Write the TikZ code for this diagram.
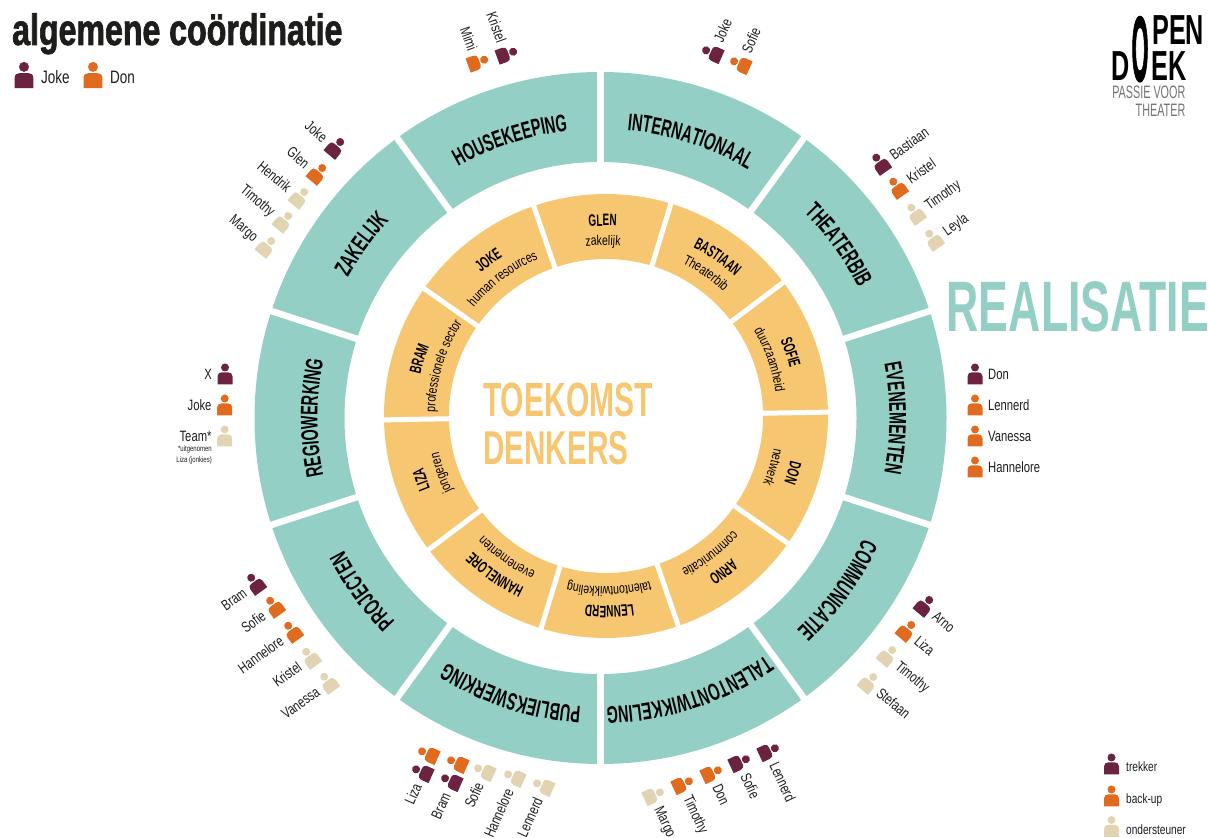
\documentclass[tikz,border=0pt]{standalone}
\usepackage{fontspec}
\usetikzlibrary{decorations.text}
\setmainfont{Liberation Sans}
\newfontfamily\headfont[FakeStretch=0.6]{Liberation Sans}
\newfontfamily\bigfont[FakeStretch=0.625]{Liberation Sans}
\newfontfamily\namefont[FakeStretch=0.75]{Liberation Sans}
\newfontfamily\titlefont[FakeStretch=0.73,FakeBold=1.5]{Liberation Sans}
\newfontfamily\logoofont[FakeStretch=0.6,FakeBold=1.6]{Liberation Sans}
\newcommand{\bandfont}{\headfont\bfseries\fontsize{24}{24}\selectfont}
\newcommand{\leadfont}{\headfont\bfseries\fontsize{16.5}{16.5}\selectfont}
\newcommand{\topicfont}{\namefont\fontsize{14}{14}\selectfont}
\newcommand{\ringlabel}[4]{\path[decorate,decoration={text along path,text align=center,text={|#3|#4}}] ({#1+28}:#2) arc ({#1+28}:{#1-28}:#2);}
\definecolor{bandteal}{HTML}{94CFC6}
\definecolor{ringgold}{HTML}{F6C671}
\definecolor{trekker}{HTML}{6B2340}
\definecolor{backup}{HTML}{E06A1E}
\definecolor{steun}{HTML}{E2D3B3}
\definecolor{inkdark}{HTML}{1D1D1B}
\tikzset{
	person/.pic={
		\fill[pic actions] (0,6.5) circle (4pt);
		\fill[pic actions] (-7.5,-10.5) -- (7.5,-10.5) -- (7.5,-2.5) .. controls (7.5,0.5) and (5.5,1.5) .. (3.5,1.5) -- (-3.5,1.5) .. controls (-5.5,1.5) and (-7.5,0.5) .. (-7.5,-2.5) -- cycle;
	},
	namelabel/.style={inner sep=0,text=inkdark,font=\namefont\fontsize{15}{15}\selectfont},
	logolabel/.style={inner sep=0,text=black,font=\headfont\bfseries\fontsize{42}{42}\selectfont},
	logosub/.style={inner sep=0,text=black!55,font=\headfont\fontsize{18}{18}\selectfont},
}
\begin{document}
\begin{tikzpicture}[x=1pt,y=1pt]
	\useasboundingbox (0,0) rectangle (1208,838);
	% outer band
	\begin{scope}[shift={(600.5,420)}]
		\fill[bandteal,even odd rule] (0,0) circle (346) (0,0) circle (256);
		\foreach \a in {18,54,...,342}
			\draw[white,line width=6.5pt] (\a:250) -- (\a:352);
		\draw[white,line width=6.5pt] (90:250) -- (90:352);
		\ringlabel{108}{289}{\bandfont}{HOUSEKEEPING}
		\ringlabel{72}{289}{\bandfont}{INTERNATIONAAL}
		\ringlabel{36}{289}{\bandfont}{THEATERBIB}
		\ringlabel{0}{289}{\bandfont}{EVENEMENTEN}
		\ringlabel{-36}{289}{\bandfont}{COMMUNICATIE}
		\ringlabel{-72}{289}{\bandfont}{TALENTONTWIKKELING}
		\ringlabel{-108}{289}{\bandfont}{PUBLIEKSWERKING}
		\ringlabel{-144}{289}{\bandfont}{PROJECTEN}
		\ringlabel{180}{283}{\bandfont}{REGIOWERKING}
		\ringlabel{144}{289}{\bandfont}{ZAKELIJK}
	\end{scope}
	% inner ring
	\begin{scope}[shift={(606,422)}]
		\fill[ringgold,even odd rule] (0,0) circle (222) (0,0) circle (157);
		\foreach \a in {1,37,...,325}
			\draw[white,line width=5pt] (\a:150) -- (\a:228);
		\ringlabel{91}{190}{\leadfont}{GLEN}
		\ringlabel{91}{171}{\topicfont}{zakelijk}
		\ringlabel{55}{190}{\leadfont}{BASTIAAN}
		\ringlabel{55}{171}{\topicfont}{Theaterbib}
		\ringlabel{19}{190}{\leadfont}{SOFIE}
		\ringlabel{19}{171}{\topicfont}{duurzaamheid}
		\ringlabel{-17}{190}{\leadfont}{DON}
		\ringlabel{-17}{171}{\topicfont}{netwerk}
		\ringlabel{-53}{190}{\leadfont}{ARNO}
		\ringlabel{-53}{171}{\topicfont}{communicatie}
		\ringlabel{-89}{190}{\leadfont}{LENNERD}
		\ringlabel{-89}{171}{\topicfont}{talentontwikkeling}
		\ringlabel{-125}{190}{\leadfont}{HANNELORE}
		\ringlabel{-125}{171}{\topicfont}{evenementen}
		\ringlabel{-161}{190}{\leadfont}{LIZA}
		\ringlabel{-161}{171}{\topicfont}{jongeren}
		\ringlabel{163}{190}{\leadfont}{BRAM}
		\ringlabel{163}{171}{\topicfont}{professionele sector}
		\ringlabel{127}{190}{\leadfont}{JOKE}
		\ringlabel{127}{171}{\topicfont}{human resources}
	\end{scope}
	\node[anchor=base west,inner sep=0,text=ringgold,font=\bigfont\bfseries\fontsize{48}{48}\selectfont] (toekomst) at (483,421) {TOEKOMST};
	\node[anchor=base west,inner sep=0,text=ringgold,font=\bigfont\bfseries\fontsize{47.5}{47.5}\selectfont] (denkers) at (483,373) {DENKERS};
	\node[anchor=base west,inner sep=0,text=bandteal,font=\bigfont\bfseries\fontsize{71.5}{71.5}\selectfont] (realisatie) at (946.5,506) {REALISATIE};
	% title and legends
	\node[anchor=base west,inner sep=0,text=inkdark,font=\titlefont\bfseries\fontsize{44}{44}\selectfont] (titel) at (12,793) {algemene coördinatie};
	\foreach \x/\c/\n in {24/trekker/Joke,93/backup/Don}{
		\pic[fill=\c,scale=1.25] at (\x,763) {person};
		\node[anchor=base west,inner sep=0,text=inkdark,font=\namefont\fontsize{18}{18}\selectfont] at (\x+17,754) {\n};
	}
	\foreach \y/\c/\n in {764/trekker/trekker,796/backup/back-up,826.5/steun/ondersteuner}{
		\pic[fill=\c] at (1111.5,838-\y) {person};
		\node[namelabel,anchor=base west,font=\namefont\fontsize{13.5}{13.5}\selectfont] at (1126,838-\y-8) {\n};
	}
	% logo
	\node[logolabel,anchor=base west,font=\logoofont\bfseries\fontsize{42}{42}\selectfont] (logoo) at (1131.5,757) {\scalebox{.85}[2.2]{O}};
	\node[logolabel,anchor=base west] (logopen) at (1152,793) {PEN};
	\node[logolabel,anchor=base west] (logod) at (1111,757) {D};
	\node[logolabel,anchor=base west] (logoek) at (1151,757) {EK};
	\node[logosub,anchor=base east] (passie) at (1185.5,739) {PASSIE VOOR};
	\node[logosub,anchor=base east] (theater) at (1185.5,721) {THEATER};
	% people right of the rings
	\foreach \x/\y/\r/\c/\n in {
		712/53/66/trekker/Joke,740/64/66/backup/Sofie,
		880/163/35/trekker/Bastiaan,897/187/35/backup/Kristel,915/213/35/steun/Timothy,933/239/35/steun/Leyla,
		975/374/0/trekker/Don,975/405/0/backup/Lennerd,975/436/0/backup/Vanessa,975/467/0/backup/Hannelore,
		925/605/-40/trekker/Arno,907/630/-40/backup/Liza,888/655/-40/steun/Timothy,869/682/-40/steun/Stefaan,
		769/751/-65/trekker/Lennerd,740/762/-65/trekker/Sofie,712/773/-65/backup/Don,683/784/-65/backup/Timothy,654/795/-65/steun/Margo}{
		\begin{scope}[shift={(\x,838-\y)},rotate=\r]
			\pic[fill=\c,transform shape] {person};
			\node[namelabel,transform shape,anchor=base west] at (13,-6) {\n};
		\end{scope}
	}
	% people left of the rings
	\foreach \x/\y/\r/\c/\n in {
		478/62/-70/backup/Mimi,507/54/-70/trekker/Kristel,
		336/147/-40/trekker/Joke,318/173/-40/backup/Glen,300/197/-40/steun/Hendrik,284/221/-40/steun/Timothy,267/246/-40/steun/Margo,
		225/374/0/trekker/X,224.7/405/0/backup/Joke,224.7/436/0/steun/Team*,
		255/583/36/trekker/Bram,274/606/36/backup/Sofie,292/631/36/backup/Hannelore,310/657/36/steun/Kristel,328/682/36/steun/Vanessa,
		422/772/66/trekker/Liza,451/781/66/trekker/Bram,484/771/66/steun/Sofie,514/777/66/steun/Hannelore,543/786/66/steun/Lennerd}{
		\begin{scope}[shift={(\x,838-\y)},rotate=\r]
			\pic[fill=\c,transform shape] {person};
			\node[namelabel,transform shape,anchor=base east] at (-13,-6) {\n};
		\end{scope}
	}
	\pic[fill=backup,rotate=66] at (428,84) {person};
	\pic[fill=backup,rotate=66] at (457,75) {person};
	\node[namelabel,align=right,anchor=north east,font=\namefont\fontsize{8}{10.5}\selectfont] (teamnote) at (212,392) {*uitgenomen\\Liza (jonkies)};
\end{tikzpicture}
\end{document}
